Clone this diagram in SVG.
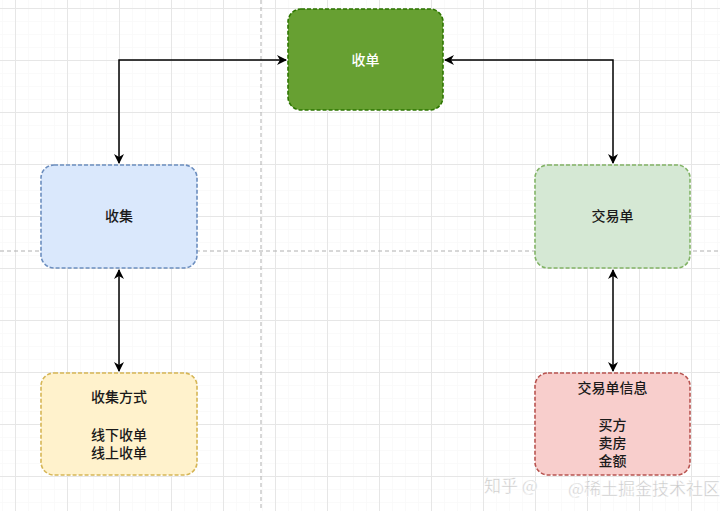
<svg xmlns="http://www.w3.org/2000/svg" width="720" height="511" viewBox="0 0 720 511">
<defs>
<pattern id="minor" width="13" height="13" patternUnits="userSpaceOnUse" x="15" y="8">
<path d="M0 0H13M0 0V13" fill="none" stroke="#f6f6f6" stroke-width="1"/>
</pattern>
<pattern id="major" width="52" height="52" patternUnits="userSpaceOnUse" x="15" y="8">
<path d="M0 0.5H52M0.5 0V52" fill="none" stroke="#e6e6e6" stroke-width="1"/>
</pattern>
<marker id="arr" viewBox="0 0 10 10" refX="9" refY="5" markerWidth="10" markerHeight="10" markerUnits="userSpaceOnUse" orient="auto-start-reverse">
<path d="M0 0L10 5L0 10L3 5Z" fill="#000"/>
</marker>
</defs>
<style>
.node{stroke-width:1.6;stroke-dasharray:4 2}
.t{font-family:"Noto Sans CJK SC","Noto Sans",sans-serif;font-size:14px;font-weight:500;text-anchor:middle;fill:#1a1a1a}
.conn{fill:none;stroke:#000;stroke-width:1.5}
</style>
<rect width="720" height="511" fill="#fff"/>
<rect width="720" height="511" fill="url(#minor)"/>
<rect width="720" height="511" fill="url(#major)"/>
<g id="guides" stroke="#b0b0b0" stroke-width="1" stroke-dasharray="4 3">
<line x1="261" y1="0" x2="261" y2="511"/>
<line x1="0" y1="251" x2="720" y2="251"/>
</g>
<g id="connectors">
<path class="conn" d="M119 163V60H286" marker-start="url(#arr)" marker-end="url(#arr)"/>
<path class="conn" d="M445 60H613V163" marker-start="url(#arr)" marker-end="url(#arr)"/>
<path class="conn" d="M119 270V371" marker-start="url(#arr)" marker-end="url(#arr)"/>
<path class="conn" d="M613 270V371" marker-start="url(#arr)" marker-end="url(#arr)"/>
</g>
<g id="n-shoudan">
<rect class="node" x="288" y="9" width="155" height="101" rx="13" fill="#67a032" stroke="#2d7600"/>
<text class="t" x="365.5" y="65" style="fill:#fff">收单</text>
</g>
<g id="n-shouji">
<rect class="node" x="41" y="165" width="156" height="103" rx="13" fill="#dae8fc" stroke="#6c8ebf"/>
<text class="t" x="119" y="221">收集</text>
</g>
<g id="n-jiaoyidan">
<rect class="node" x="535" y="165" width="155" height="103" rx="13" fill="#d5e8d4" stroke="#82b366"/>
<text class="t" x="612.5" y="221">交易单</text>
</g>
<g id="n-shoujifangshi">
<rect class="node" x="41" y="373" width="156" height="102" rx="13" fill="#fff2cc" stroke="#d6b656"/>
<text class="t" x="119" y="402">收集方式</text>
<text class="t" x="119" y="440">线下收单</text>
<text class="t" x="119" y="458">线上收单</text>
</g>
<g id="n-jiaoyidanxinxi">
<rect class="node" x="535" y="373" width="155" height="102" rx="13" fill="#f8cecc" stroke="#b85450"/>
<text class="t" x="612.5" y="393">交易单信息</text>
<text class="t" x="612.5" y="430">买方</text>
<text class="t" x="612.5" y="448">卖房</text>
<text class="t" x="612.5" y="466">金额</text>
</g>
<g id="watermark" font-family="Noto Sans CJK SC,sans-serif" font-size="17" fill="#c8c8c8" stroke="#fff" stroke-width="0.4">
<text x="484" y="492">知乎 @</text>
<text x="568" y="495">@稀土掘金技术社区</text>
</g>
</svg>
